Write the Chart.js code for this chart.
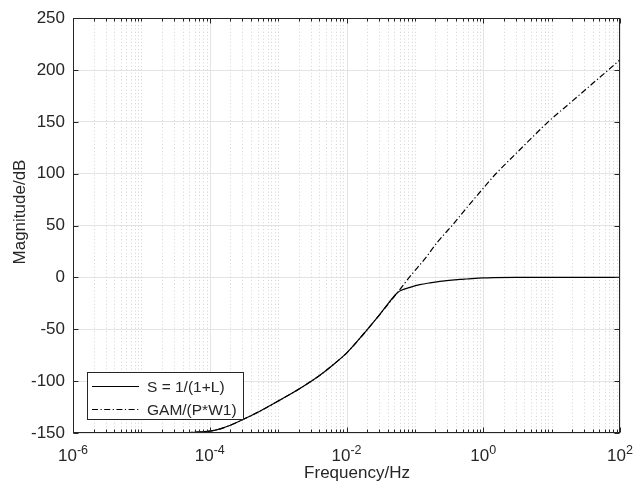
<!DOCTYPE html>
<html>
<head>
<meta charset="utf-8">
<script src="https://cdn.jsdelivr.net/npm/chart.js@4.4.1/dist/chart.umd.min.js"></script>
<style>
  html, body { margin: 0; padding: 0; background: #ffffff; }
  #wrap { width: 634px; height: 485px; position: relative; }
</style>
</head>
<body>
<div id="wrap"><canvas id="c" width="634" height="485"></canvas></div>
<script>
// ---- data ----
const seriesNames = ['S = 1/(1+L)', 'GAM/(P*W1)'];

const sFreq = [1e-6, 1e-5, 3e-5, 6e-5, 1e-4, 1.5e-4, 2e-4, 3e-4, 5.4e-4, 1.06e-3, 2.08e-3, 4.08e-3, 7e-3, 1e-2, 1.75e-2, 3.08e-2, 5.5e-2, 6.2e-2, 8.5e-2, 0.118, 0.166, 0.232, 0.457, 0.57, 1.0, 1.4, 3, 10, 100];
const sMag  = [-150, -149.9, -149.7, -149.3, -148.2, -145.5, -142.5, -137.3, -129, -118.3, -107.1, -94.3, -82, -73, -55, -35.5, -15, -12.6, -9.6, -7.0, -5.2, -3.8, -1.9, -1.5, -0.5, -0.2, 0, 0, 0];

const gFreq = [1e-6, 1e-5, 3e-5, 6e-5, 1e-4, 1.5e-4, 2e-4, 3e-4, 5.4e-4, 1.06e-3, 2.08e-3, 4.08e-3, 7e-3, 1e-2, 1.75e-2, 3.08e-2, 5.5e-2, 8.5e-2, 0.14, 0.22, 0.36, 0.6, 1.0, 1.53, 3, 8.9, 20, 40, 70, 100];
const gMag  = [-150, -149.9, -149.7, -149.3, -148.2, -145.5, -142.5, -137.3, -129, -118.3, -107.1, -94.3, -82, -73, -55, -35.5, -15, 1, 18, 35, 51, 68.8, 86, 100, 119.3, 150, 170, 187.2, 201, 210];

const xTickExponents = [-6, -4, -2, 0, 2];
const yTickValues = [-150, -100, -50, 0, 50, 100, 150, 200, 250];
const xTitle = 'Frequency/Hz';
const yTitle = 'Magnitude/dB';

// ---- styling / layout ----
const FONT = '"Liberation Sans", Arial, Helvetica, sans-serif';
const TXT = '#262626';
const AREA = { left: 73, right: 620, top: 16, bottom: 433 };

const xMajor = xTickExponents.map(e => Math.pow(10, e));
const xMinor = [];
for (let e = -6; e < 2; e++) {
  for (let k = 1; k <= 9; k++) {
    const v = k * Math.pow(10, e);
    if (!xMajor.some(m => Math.abs(m - v) / m < 1e-9)) xMinor.push(v);
  }
}

function toPts(fx, my) { return fx.map((f, i) => ({ x: f, y: my[i] })); }

const decor = {
  id: 'decor',
  beforeDatasetsDraw(chart) {
    const { ctx, chartArea: a, scales: { x } } = chart;
    ctx.save();
    ctx.lineWidth = 1;
    ctx.strokeStyle = '#d4d4d4';
    ctx.setLineDash([1, 2.4]);
    for (const v of xMinor) {
      const px = Math.round(x.getPixelForValue(v)) + 0.5;
      ctx.beginPath(); ctx.moveTo(px, a.top); ctx.lineTo(px, a.bottom); ctx.stroke();
    }
    ctx.setLineDash([]);
    ctx.strokeStyle = '#e4e4e4';
    for (const v of xMajor) {
      const px = Math.round(x.getPixelForValue(v)) + 0.5;
      ctx.beginPath(); ctx.moveTo(px, a.top); ctx.lineTo(px, a.bottom); ctx.stroke();
    }
    ctx.restore();
  },
  afterDraw(chart) {
    const { ctx, chartArea: a, scales: { x, y } } = chart;
    ctx.save();
    const L = Math.round(a.left) + 0.5, R = Math.round(a.right) - 0.5;
    const T = Math.round(a.top) + 0.5, B = Math.round(a.bottom) - 0.5;
    ctx.strokeStyle = TXT; ctx.lineWidth = 1; ctx.setLineDash([]);
    // ticks
    ctx.beginPath();
    for (const v of xMinor) {
      const px = Math.round(x.getPixelForValue(v)) + 0.5;
      ctx.moveTo(px, B); ctx.lineTo(px, B - 3);
      ctx.moveTo(px, T); ctx.lineTo(px, T + 3);
    }
    for (const v of xMajor) {
      const px = Math.round(x.getPixelForValue(v)) + 0.5;
      ctx.moveTo(px, B); ctx.lineTo(px, B - 5);
      ctx.moveTo(px, T); ctx.lineTo(px, T + 5);
    }
    for (const v of yTickValues) {
      const py = Math.round(y.getPixelForValue(v)) + 0.5;
      ctx.moveTo(L, py); ctx.lineTo(L + 5, py);
      ctx.moveTo(R, py); ctx.lineTo(R - 5, py);
    }
    ctx.stroke();
    // frame
    ctx.strokeRect(L, T, R - L, B - T);

    // x tick labels 10^n
    ctx.fillStyle = TXT;
    ctx.textBaseline = 'alphabetic';
    ctx.textAlign = 'left';
    for (const e of xTickExponents) {
      const px = x.getPixelForValue(Math.pow(10, e));
      ctx.font = '17px ' + FONT;
      const w1 = ctx.measureText('10').width;
      ctx.font = '12.5px ' + FONT;
      const es = String(e);
      const w2 = ctx.measureText(es).width;
      const sx = px - (w1 + w2) / 2;
      ctx.font = '17px ' + FONT;
      ctx.fillText('10', sx, 461);
      ctx.font = '12.5px ' + FONT;
      ctx.fillText(es, sx + w1, 453.5);
    }

    // axis titles
    ctx.font = '17px ' + FONT;
    ctx.textAlign = 'center';
    ctx.fillText(xTitle, 357, 478);
    ctx.save();
    ctx.translate(25, 212);
    ctx.rotate(-Math.PI / 2);
    ctx.fillText(yTitle, 0, 0);
    ctx.restore();

    // legend
    const lx = 87.5, ly = 372.5, lw = 156, lh = 47;
    ctx.fillStyle = '#ffffff';
    ctx.fillRect(lx, ly, lw, lh);
    ctx.strokeStyle = TXT; ctx.lineWidth = 1;
    ctx.strokeRect(lx, ly, lw, lh);
    const rows = [386.5, 409.5];
    chart.data.datasets.forEach((ds, i) => {
      const ry = rows[i];
      ctx.strokeStyle = ds.borderColor;
      ctx.lineWidth = ds.borderWidth;
      ctx.setLineDash(ds.borderDash || []);
      ctx.beginPath(); ctx.moveTo(92, ry); ctx.lineTo(139, ry); ctx.stroke();
      ctx.setLineDash([]);
      ctx.fillStyle = TXT;
      ctx.font = '15.5px ' + FONT;
      ctx.textAlign = 'left';
      ctx.textBaseline = 'middle';
      ctx.fillText(ds.label, 147, ry + 1);
    });
    ctx.restore();
  }
};

new Chart(document.getElementById('c'), {
  type: 'line',
  data: {
    datasets: [
      { label: seriesNames[0], data: toPts(sFreq, sMag), borderColor: '#000000', borderWidth: 1.2,
        pointRadius: 0, cubicInterpolationMode: 'monotone', fill: false },
      { label: seriesNames[1], data: toPts(gFreq, gMag), borderColor: '#000000', borderWidth: 1.2,
        borderDash: [6, 2.5, 1.2, 2.5], pointRadius: 0, cubicInterpolationMode: 'monotone', fill: false }
    ]
  },
  options: {
    responsive: false,
    animation: false,
    devicePixelRatio: 1,
    layout: { padding: { top: AREA.top, right: 634 - AREA.right, left: 0, bottom: 0 } },
    plugins: { legend: { display: false }, tooltip: { enabled: false }, title: { display: false } },
    scales: {
      x: {
        type: 'logarithmic', min: 1e-6, max: 1e2,
        ticks: { display: false },
        grid: { display: false },
        border: { display: false },
        afterFit: s => { s.height = 485 - AREA.bottom; }
      },
      y: {
        type: 'linear', min: -150, max: 250,
        afterBuildTicks: s => { s.ticks = yTickValues.map(v => ({ value: v })); },
        ticks: { font: { family: FONT, size: 17 }, color: TXT, padding: 8,
                 callback: v => String(v) },
        grid: { color: '#e4e4e4', drawTicks: false, lineWidth: 1 },
        border: { display: false },
        afterFit: s => { s.width = AREA.left; }
      }
    }
  },
  plugins: [decor]
});
</script>
</body>
</html>
